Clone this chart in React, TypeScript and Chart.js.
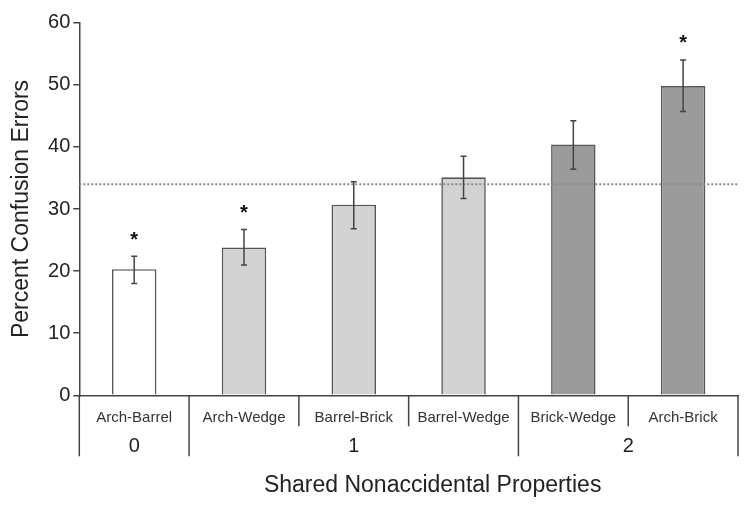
import React, { useEffect, useRef } from "react";
import { Chart, registerables } from "chart.js";

Chart.register(...registerables);

const FONT = "'Liberation Sans', Arial, Helvetica, sans-serif";

const categories = ["Arch-Barrel", "Arch-Wedge", "Barrel-Brick", "Barrel-Wedge", "Brick-Wedge", "Arch-Brick"];
const values = [20.3, 23.8, 30.7, 35.1, 40.4, 49.8];
const errLow = [18.0, 21.0, 26.8, 31.7, 36.4, 45.7];
const errHigh = [22.4, 26.7, 34.4, 38.5, 44.2, 54.0];
const significant = [true, true, false, false, false, true];
const barColors = ["#ffffff", "#d3d3d3", "#d3d3d3", "#d3d3d3", "#9b9b9b", "#9b9b9b"];
const groupLabels = ["0", "1", "2"];
const groupSizes = [1, 3, 2];
const chanceLevel = 34.0;
const yMin = 0;
const yMax = 60;
const yStep = 10;
const yTitle = "Percent Confusion Errors";
const xTitle = "Shared Nonaccidental Properties";

const overlay = {
  id: "overlay",
  afterDatasetsDraw(chart: any) {
    const ctx = chart.ctx as CanvasRenderingContext2D;
    const xs = chart.scales.x;
    const ys = chart.scales.y;
    const { left, right } = chart.chartArea;
    ctx.save();
    // chance line
    ctx.strokeStyle = "#8a8a8a";
    ctx.lineWidth = 2;
    ctx.setLineDash([2, 2]);
    const yc = ys.getPixelForValue(chanceLevel);
    ctx.beginPath();
    ctx.moveTo(left, yc);
    ctx.lineTo(right, yc);
    ctx.stroke();
    ctx.setLineDash([]);
    // error bars
    ctx.strokeStyle = "#444";
    ctx.lineWidth = 1.5;
    categories.forEach((_, i) => {
      const x = xs.getPixelForValue(i);
      const yh = ys.getPixelForValue(errHigh[i]);
      const yl = ys.getPixelForValue(errLow[i]);
      ctx.beginPath();
      ctx.moveTo(x, yh);
      ctx.lineTo(x, yl);
      ctx.moveTo(x - 3, yh);
      ctx.lineTo(x + 3, yh);
      ctx.moveTo(x - 3, yl);
      ctx.lineTo(x + 3, yl);
      ctx.stroke();
      if (significant[i]) {
        ctx.fillStyle = "#111";
        ctx.font = `bold 20px ${FONT}`;
        ctx.textAlign = "center";
        ctx.textBaseline = "alphabetic";
        ctx.fillText("*", x, yh - 22 + 11.5);
      }
    });
    ctx.restore();
  },
  afterDraw(chart: any) {
    const ctx = chart.ctx as CanvasRenderingContext2D;
    const xs = chart.scales.x;
    const { left, right, bottom } = chart.chartArea;
    const step = xs.getPixelForValue(1) - xs.getPixelForValue(0);
    const edge = (k: number) => xs.getPixelForValue(0) - step / 2 + k * step;
    const groupEdges: number[] = [0];
    groupSizes.forEach((s) => groupEdges.push(groupEdges[groupEdges.length - 1] + s));
    ctx.save();
    ctx.strokeStyle = "#444";
    ctx.lineWidth = 1.5;
    for (let k = 0; k <= categories.length; k++) {
      const long = groupEdges.includes(k);
      const x = edge(k);
      ctx.beginPath();
      ctx.moveTo(x, bottom);
      ctx.lineTo(x, bottom + (long ? 61 : 31));
      ctx.stroke();
    }
    ctx.fillStyle = "#333";
    ctx.textAlign = "center";
    ctx.textBaseline = "alphabetic";
    ctx.font = `15px ${FONT}`;
    categories.forEach((c, i) => {
      ctx.fillText(c, xs.getPixelForValue(i), bottom + 26.4);
    });
    ctx.fillStyle = "#222";
    ctx.font = `20px ${FONT}`;
    groupLabels.forEach((g, j) => {
      const x = (edge(groupEdges[j]) + edge(groupEdges[j + 1])) / 2;
      ctx.fillText(g, x, bottom + 57);
    });
    ctx.font = `23px ${FONT}`;
    ctx.fillText(xTitle, (left + right) / 2 + 24, bottom + 96.4);
    ctx.restore();
  },
};

export default function App() {
  const ref = useRef<HTMLCanvasElement>(null);
  useEffect(() => {
    if (!ref.current) return;
    Chart.defaults.font.family = FONT;
    const chart = new Chart(ref.current, {
      type: "bar",
      data: {
        labels: categories,
        datasets: [
          {
            data: values,
            backgroundColor: barColors,
            borderColor: "#555",
            borderWidth: 1.6,
            barPercentage: 0.405,
            categoryPercentage: 1,
          },
        ],
      },
      options: {
        animation: false,
        responsive: false,
        layout: { padding: { left: 0, right: 12, top: 22.7, bottom: 0 } },
        plugins: { legend: { display: false }, tooltip: { enabled: false } },
        scales: {
          x: {
            type: "category",
            grid: { display: false },
            ticks: { display: false },
            border: { display: true, color: "#444", width: 1.5 },
            afterFit: (s: any) => {
              s.height = 110.7;
            },
          },
          y: {
            min: yMin,
            max: yMax,
            ticks: { stepSize: yStep, font: { size: 20 }, color: "#222", padding: 3 },
            grid: { drawOnChartArea: false, drawTicks: true, tickLength: 6, color: "#444", lineWidth: 1.5 },
            border: { display: true, color: "#444", width: 1.5 },
            title: { display: true, text: yTitle, font: { size: 23 }, color: "#222", padding: { top: 7.7, bottom: 0 } },
            afterFit: (s: any) => {
              s.width = 79.3;
            },
          },
        },
      } as any,
      plugins: [overlay],
    });
    return () => chart.destroy();
  }, []);
  return (
    <div style={{ position: "absolute", left: 0, top: 0, width: 750, height: 506, background: "#fff" }}>
      <canvas ref={ref} width={750} height={506} style={{ display: "block" }} />
    </div>
  );
}
